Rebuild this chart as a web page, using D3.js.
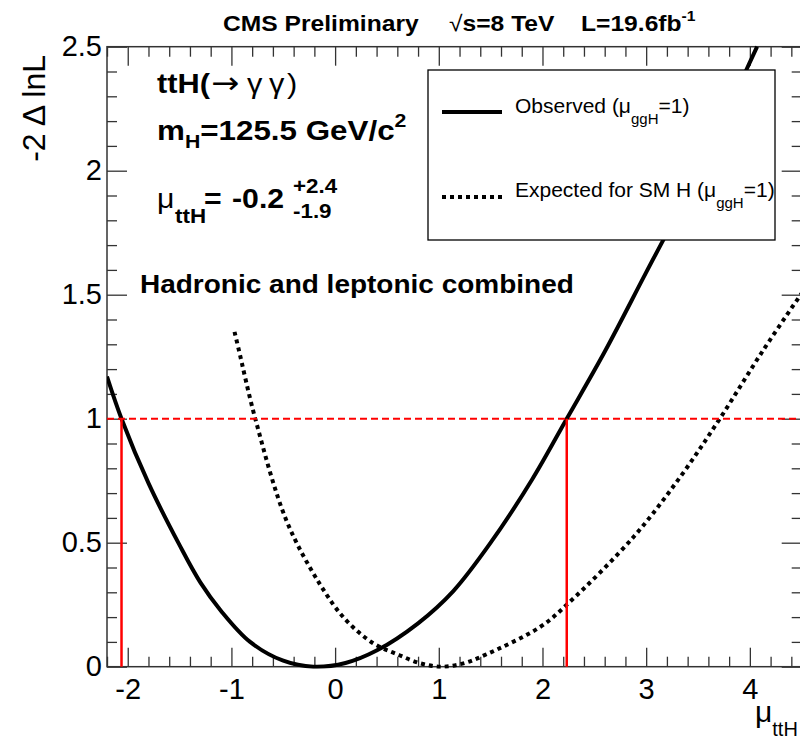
<!DOCTYPE html>
<html>
<head>
<script src="https://cdnjs.cloudflare.com/ajax/libs/d3/7.8.5/d3.min.js"></script>
<style>
body {margin: 0; background: #fff;}
svg text {font-family: "Liberation Sans", Arial, Helvetica, sans-serif;}
</style>
</head>
<body>
<svg id="chart" width="800" height="737"></svg>
<script>
// likelihood scan, observed (mu_ggH = 1)
var obsMu  = [-2.2, -2.06, -1.8, -1.5, -1.3, -1.1, -0.82, -0.5, -0.21, 0.1, 0.4, 0.8, 1.14, 1.5, 1.9, 2.234, 2.6, 3.0, 3.5, 3.97, 4.07];
var obsVal = [1.17, 1.0, 0.74, 0.49, 0.34, 0.225, 0.10, 0.024, 0, 0.015, 0.065, 0.175, 0.305, 0.5, 0.755, 1.0, 1.27, 1.59, 1.99, 2.41, 2.5];

// expected for SM H
var expMu  = [-0.97, -0.93, -0.77, -0.47, -0.15, 0.1, 0.37, 0.6, 0.82, 1.03, 1.25, 1.46, 1.98, 2.25, 2.88, 3.33, 3.71, 4.13, 4.5];
var expVal = [1.35, 1.28, 1.0, 0.59, 0.335, 0.19, 0.094, 0.05, 0.014, 0, 0.015, 0.05, 0.161, 0.256, 0.524, 0.766, 1.0, 1.277, 1.506];

var xTickVals = [-2, -1, 0, 1, 2, 3, 4];
var yTickVals = [0, 0.5, 1, 1.5, 2, 2.5];
var yTickLabels = ["0", "0.5", "1", "1.5", "2", "2.5"];

// 1 sigma crossings of the observed curve
var crossMu = [-2.06, 2.234];
var crossLevel = 1;

var svg = d3.select("#chart");

var pLeft = 107, pRight = 801.7, pTop = 46.7, pBottom = 666.7;

var x = d3.scaleLinear().domain([-2.2, 4.5]).range([pLeft, pRight]);
var y = d3.scaleLinear().domain([0, 2.5]).range([pBottom, pTop]);

var xMinor = d3.range(-11, 23).filter(function(i) { return i % 5 !== 0; }).map(function(i) { return i * 0.2; });
var yMinor = d3.range(0, 26).filter(function(i) { return i % 5 !== 0; }).map(function(i) { return i / 10; });

var axisColor = "#333";

function styleAxis(g, fontSize) {
    g.select(".domain").remove();
    g.selectAll("line").attr("stroke", axisColor).attr("stroke-width", 1.3);
    g.selectAll("text").attr("font-size", fontSize).attr("fill", "#000")
        .attr("font-family", '"Liberation Sans", Arial, sans-serif');
}

// bottom
svg.append("g").attr("transform", "translate(0," + pBottom + ")")
    .call(d3.axisBottom(x).tickValues(xTickVals).tickSize(-19).tickPadding(12).tickFormat(function(d) { return String(d); }))
    .call(styleAxis, 29);
svg.append("g").attr("transform", "translate(0," + pBottom + ")")
    .call(d3.axisBottom(x).tickValues(xMinor).tickSize(-10).tickFormat(""))
    .call(styleAxis, 10);
// top
svg.append("g").attr("transform", "translate(0," + pTop + ")")
    .call(d3.axisTop(x).tickValues(xTickVals).tickSize(-19).tickFormat(""))
    .call(styleAxis, 10);
svg.append("g").attr("transform", "translate(0," + pTop + ")")
    .call(d3.axisTop(x).tickValues(xMinor).tickSize(-10).tickFormat(""))
    .call(styleAxis, 10);
// left
svg.append("g").attr("transform", "translate(" + pLeft + ",0)")
    .call(d3.axisLeft(y).tickValues(yTickVals).tickSize(-20).tickPadding(5).tickFormat(function(d, i) { return yTickLabels[i]; }))
    .call(styleAxis, 29);
svg.append("g").attr("transform", "translate(" + pLeft + ",0)")
    .call(d3.axisLeft(y).tickValues(yMinor).tickSize(-10).tickFormat(""))
    .call(styleAxis, 10);
// right
svg.append("g").attr("transform", "translate(" + pRight + ",0)")
    .call(d3.axisRight(y).tickValues(yTickVals).tickSize(-20).tickFormat(""))
    .call(styleAxis, 10);
svg.append("g").attr("transform", "translate(" + pRight + ",0)")
    .call(d3.axisRight(y).tickValues(yMinor).tickSize(-10).tickFormat(""))
    .call(styleAxis, 10);

// frame
svg.append("rect")
    .attr("x", pLeft).attr("y", pTop)
    .attr("width", pRight - pLeft).attr("height", pBottom - pTop)
    .attr("fill", "none").attr("stroke", axisColor).attr("stroke-width", 1.5);

svg.append("clipPath").attr("id", "plotclip")
  .append("rect").attr("x", pLeft).attr("y", pTop - 2).attr("width", pRight - pLeft).attr("height", pBottom - pTop + 4);

var line = d3.line().x(function(d) { return x(d[0]); }).y(function(d) { return y(d[1]); }).curve(d3.curveCatmullRom.alpha(0.5));

var plot = svg.append("g").attr("clip-path", "url(#plotclip)");

plot.append("path")
    .datum(d3.zip(expMu, expVal))
    .attr("d", line)
    .attr("fill", "none").attr("stroke", "#000").attr("stroke-width", 4)
    .attr("stroke-dasharray", "4,4");

plot.append("path")
    .datum(d3.zip(obsMu, obsVal))
    .attr("d", line)
    .attr("fill", "none").attr("stroke", "#000").attr("stroke-width", 4);

// red lines
svg.append("line")
    .attr("x1", x(-2.2)).attr("x2", x(4.5))
    .attr("y1", y(crossLevel)).attr("y2", y(crossLevel))
    .attr("stroke", "#ff0000").attr("stroke-width", 2).attr("stroke-dasharray", "7,4");
svg.selectAll("line.cross").data(crossMu).enter().append("line")
    .attr("class", "cross")
    .attr("x1", function(d) { return x(d); }).attr("x2", function(d) { return x(d); })
    .attr("y1", y(crossLevel)).attr("y2", y(0))
    .attr("stroke", "#ff0000").attr("stroke-width", 2.5);

// bold text is drawn a bit wider, like the original
var sx = 1.12;
function wide(x0, y0) {
    return svg.append("g").attr("transform", "translate(" + x0 + "," + y0 + ") scale(" + sx + ",1)");
}

// header
var hd = wide(223, 31).append("text").attr("font-size", 22).attr("font-weight", "bold");
hd.append("tspan").text("CMS Preliminary");
hd.append("tspan").attr("x", (449 - 223) / sx).attr("font-weight", "normal").text("\u221A");
hd.append("tspan").text("s=8 TeV");
hd.append("tspan").attr("x", (581 - 223) / sx).text("L=19.6fb");
hd.append("tspan").attr("font-size", 14).attr("dy", -10).text("-1");

// ttH(-> gamma gamma)
var t1 = wide(157, 93).append("text").attr("font-size", 27.5);
t1.append("tspan").attr("font-weight", "bold").text("ttH(");
t1.append("tspan").attr("x", (211 - 157) / sx).attr("font-family", '"DejaVu Sans", sans-serif').attr("font-size", 30).text("\u2192");
t1.append("tspan").attr("x", (247 - 157) / sx).text("\u03B3");
t1.append("tspan").attr("x", (269 - 157) / sx).text("\u03B3");
t1.append("tspan").attr("x", (287 - 157) / sx).text(")");

// m_H
var t2 = wide(157, 140).append("text").attr("font-size", 28).attr("font-weight", "bold");
t2.append("tspan").text("m");
t2.append("tspan").attr("font-size", 19).attr("dy", 8).text("H");
t2.append("tspan").attr("dy", -8).text("=125.5 GeV/c");
t2.append("tspan").attr("font-size", 19).attr("dy", -13).text("2");

// mu_ttH
var t3 = wide(157, 208).append("text").attr("font-size", 27).attr("font-weight", "bold");
t3.append("tspan").attr("font-weight", "normal").text("\u03BC");
t3.append("tspan").attr("x", (175 - 157) / sx).attr("font-size", 20).attr("dy", 15).text("ttH");
t3.append("tspan").attr("x", (204 - 157) / sx).attr("dy", -15).text("=");
t3.append("tspan").attr("x", (232 - 157) / sx).text("-0.2");
var t3b = wide(293, 193).append("text").attr("font-size", 20).attr("font-weight", "bold");
t3b.append("tspan").text("+2.4");
t3b.append("tspan").attr("x", 0).attr("y", 25).text("-1.9");

wide(140, 293).append("text").attr("font-size", 25).attr("font-weight", "bold")
    .text("Hadronic and leptonic combined");

// legend
var lg = svg.append("g");
lg.append("rect").attr("x", 428).attr("y", 70).attr("width", 347).attr("height", 170)
    .attr("fill", "#fff").attr("stroke", "#000").attr("stroke-width", 1.3);
lg.append("line").attr("x1", 442).attr("x2", 502).attr("y1", 112).attr("y2", 112)
    .attr("stroke", "#000").attr("stroke-width", 4);
lg.append("line").attr("x1", 442).attr("x2", 502).attr("y1", 197).attr("y2", 197)
    .attr("stroke", "#000").attr("stroke-width", 4).attr("stroke-dasharray", "4,4");
var l1 = lg.append("text").attr("x", 515).attr("y", 113).attr("font-size", 21);
l1.append("tspan").text("Observed (\u03BC");
l1.append("tspan").attr("font-size", 15).attr("dy", 11).text("ggH");
l1.append("tspan").attr("dy", -11).text("=1)");
var l2 = lg.append("text").attr("x", 515).attr("y", 197).attr("font-size", 21);
l2.append("tspan").text("Expected for SM H (\u03BC");
l2.append("tspan").attr("font-size", 15).attr("dy", 11).text("ggH");
l2.append("tspan").attr("dy", -11).text("=1)");

// axis titles
svg.append("text")
    .attr("transform", "translate(45,55) rotate(-90)")
    .attr("text-anchor", "end").attr("font-size", 32)
    .text("-2 \u0394 lnL");

var xt = svg.append("text").attr("x", 755).attr("y", 722).attr("font-size", 30);
xt.append("tspan").text("\u03BC");
xt.append("tspan").attr("font-size", 20).attr("dy", 14).text("ttH");
</script>
</body>
</html>
